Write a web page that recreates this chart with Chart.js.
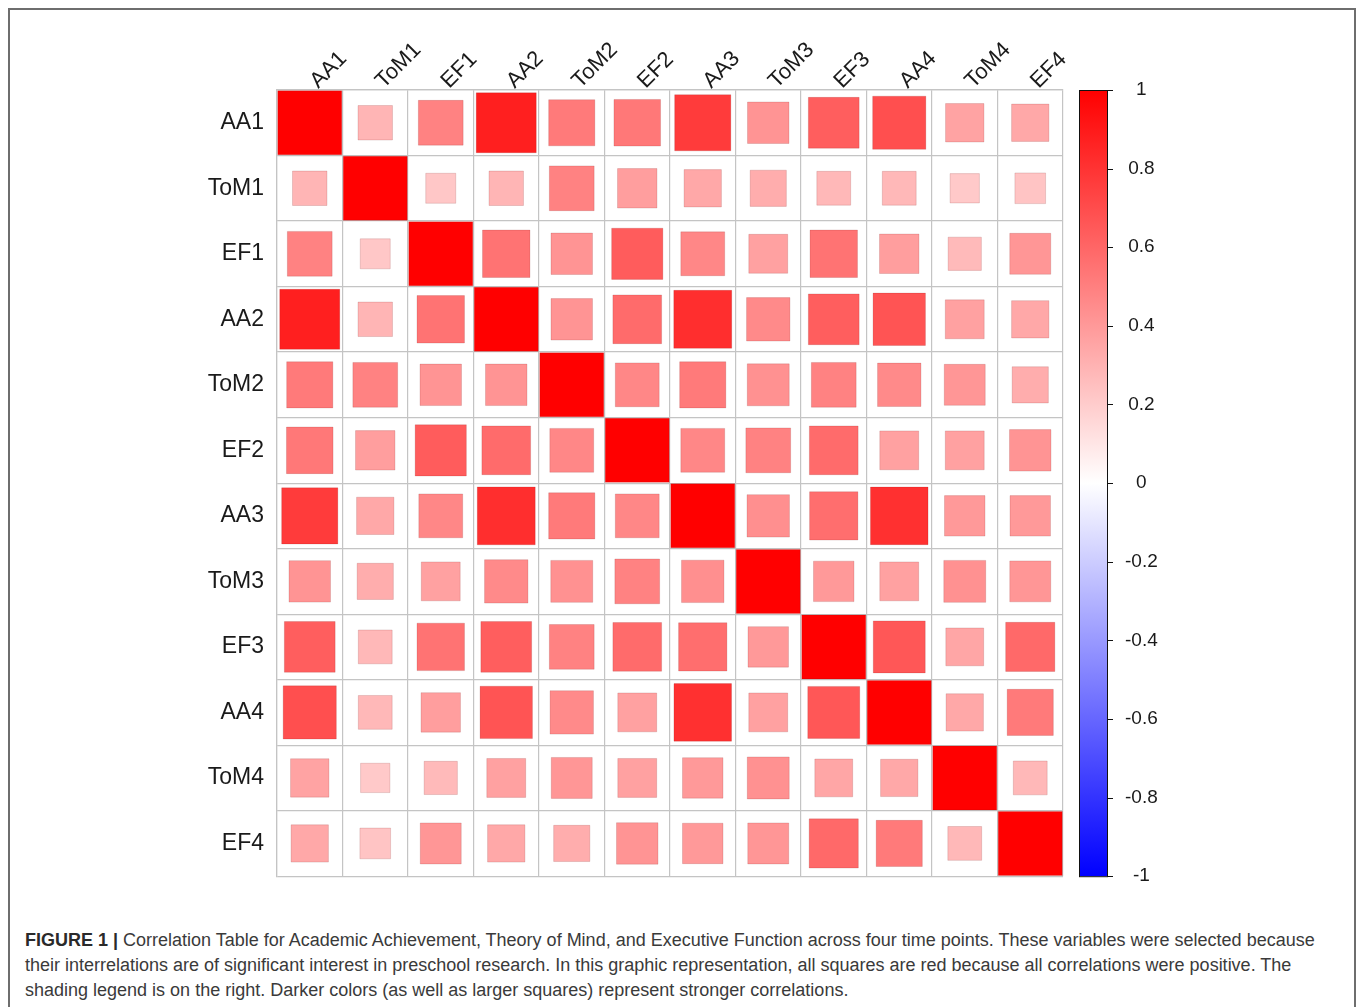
<!DOCTYPE html>
<html>
<head>
<meta charset="utf-8">
<script src="https://cdn.jsdelivr.net/npm/chart.js@4.4.1/dist/chart.umd.min.js"></script>
<style>
  html, body { margin: 0; padding: 0; background: #fff; }
  body { width: 1358px; height: 1007px; position: relative; overflow: hidden; }
  #frame {
    position: absolute; left: 8px; top: 8px; width: 1348px; height: 1100px;
    border: 2px solid #6e6e6e; box-sizing: border-box;
  }
  #corrChart { position: absolute; left: 0; top: 0; }
  #caption {
    position: absolute; left: 25px; top: 928px;
    font-family: "Liberation Sans", Arial, sans-serif; font-size: 18px;
    line-height: 25px; color: #3a3a3a; white-space: nowrap;
  }
  #caption b { color: #2a2a2a; }
</style>
</head>
<body>
<div id="frame"></div>
<canvas id="corrChart" width="1358" height="903"></canvas>
<div id="caption"><b>FIGURE 1 |</b> Correlation Table for Academic Achievement, Theory of Mind, and Executive Function across four time points. These variables were selected because<br>their interrelations are of significant interest in preschool research. In this graphic representation, all squares are red because all correlations were positive. The<br>shading legend is on the right. Darker colors (as well as larger squares) represent stronger correlations.</div>

<script>
// Variabel (urutan baris dan kolom)
const vars = ['AA1', 'ToM1', 'EF1', 'AA2', 'ToM2', 'EF2', 'AA3', 'ToM3', 'EF3', 'AA4', 'ToM4', 'EF4'];

// Korelasi per baris
const rAA1  = [1.00, 0.29, 0.49, 0.88, 0.52, 0.53, 0.77, 0.42, 0.63, 0.69, 0.36, 0.34];
const rToM1 = [0.29, 1.00, 0.22, 0.29, 0.49, 0.38, 0.34, 0.32, 0.28, 0.28, 0.21, 0.23];
const rEF1  = [0.49, 0.22, 1.00, 0.55, 0.42, 0.64, 0.47, 0.37, 0.55, 0.38, 0.27, 0.41];
const rAA2  = [0.88, 0.29, 0.55, 1.00, 0.42, 0.58, 0.82, 0.46, 0.63, 0.67, 0.37, 0.34];
const rToM2 = [0.52, 0.49, 0.42, 0.42, 1.00, 0.47, 0.52, 0.43, 0.49, 0.46, 0.41, 0.32];
const rEF2  = [0.53, 0.38, 0.64, 0.58, 0.47, 1.00, 0.47, 0.49, 0.58, 0.37, 0.37, 0.42];
const rAA3  = [0.77, 0.34, 0.47, 0.82, 0.52, 0.47, 1.00, 0.44, 0.57, 0.81, 0.40, 0.40];
const rToM3 = [0.42, 0.32, 0.37, 0.46, 0.43, 0.49, 0.44, 1.00, 0.40, 0.37, 0.43, 0.41];
const rEF3  = [0.63, 0.28, 0.55, 0.63, 0.49, 0.58, 0.57, 0.40, 1.00, 0.66, 0.35, 0.59];
const rAA4  = [0.69, 0.28, 0.38, 0.67, 0.46, 0.37, 0.81, 0.37, 0.66, 1.00, 0.34, 0.52];
const rToM4 = [0.36, 0.21, 0.27, 0.37, 0.41, 0.37, 0.40, 0.43, 0.35, 0.34, 1.00, 0.28];
const rEF4  = [0.34, 0.23, 0.41, 0.34, 0.32, 0.42, 0.40, 0.41, 0.59, 0.52, 0.28, 1.00];

// Label skala warna
const cbTicks = [-1, -0.8, -0.6, -0.4, -0.2, 0, 0.2, 0.4, 0.6, 0.8, 1];

const corrRows = [rAA1, rToM1, rEF1, rAA2, rToM2, rEF2, rAA3, rToM3, rEF3, rAA4, rToM4, rEF4];

const cells = [];
corrRows.forEach(function(row, i) {
    row.forEach(function(v, j) {
        cells.push({ x: vars[j], y: vars[i], v: v });
    });
});

// biru - putih - merah
function corrColor(v) {
    const a = Math.min(Math.abs(v), 1);
    const c = Math.round(255 * (1 - a));
    return v >= 0 ? 'rgb(255,' + c + ',' + c + ')' : 'rgb(' + c + ',' + c + ',255)';
}

function squareRadius(ctx) {
    const xs = ctx.chart.scales.x;
    const cell = Math.abs(xs.getPixelForValue(1) - xs.getPixelForValue(0));
    const v = ctx.raw ? ctx.raw.v : 0;
    const side = (cell - 1.5) * Math.sqrt(Math.abs(v));
    return side / Math.SQRT2;
}

// Menggambar bar warna di sebelah kanan
const colorBar = {
    id: 'colorBar',
    afterDraw(chart) {
        const s = chart.scales.cb;
        const c = chart.ctx;
        const x0 = s.left + 16;
        const w = 28;
        const top = s.getPixelForValue(1);
        const bot = s.getPixelForValue(-1);
        const g = c.createLinearGradient(0, top, 0, bot);
        g.addColorStop(0, corrColor(1));
        g.addColorStop(0.5, corrColor(0));
        g.addColorStop(1, corrColor(-1));
        c.save();
        c.fillStyle = g;
        c.fillRect(x0, top, w, bot - top);
        c.strokeStyle = '#111';
        c.lineWidth = 1;
        c.strokeRect(x0 + 0.5, top + 0.5, w, bot - top);
        c.beginPath();
        cbTicks.forEach(function(t) {
            const y = Math.round(s.getPixelForValue(t)) + 0.5;
            c.moveTo(x0 + w, y);
            c.lineTo(x0 + w + 6, y);
        });
        c.stroke();
        c.restore();
    }
};

const corrChart = new Chart(document.getElementById('corrChart'), {
    type: 'scatter',
    data: {
        datasets: [{
            data: cells,
            pointStyle: 'rect',
            pointRadius: squareRadius,
            pointHoverRadius: squareRadius,
            backgroundColor: function(ctx) { return corrColor(ctx.raw ? ctx.raw.v : 0); },
            borderColor: 'rgba(110,0,0,0.25)',
            borderWidth: 0.6
        }]
    },
    plugins: [colorBar],
    options: {
        responsive: false,
        animation: false,
        events: [],
        layout: { padding: { left: 0, top: 0, right: 175, bottom: 24 } },
        plugins: { legend: { display: false }, tooltip: { enabled: false } },
        scales: {
            x: {
                type: 'category',
                labels: vars,
                position: 'top',
                offset: true,
                afterFit: function(s) { s.height = 90; },
                grid: { offset: true, color: '#c4c4c4', lineWidth: 1.2, drawTicks: false },
                border: { color: '#c4c4c4', width: 1.2 },
                ticks: {
                    minRotation: 45, maxRotation: 45, padding: -4, labelOffset: 23,
                    color: '#1a1a1a',
                    font: { family: 'Liberation Sans, Arial, sans-serif', size: 22 }
                }
            },
            y: {
                type: 'category',
                labels: vars,
                position: 'left',
                offset: true,
                afterFit: function(s) { s.width = 277; },
                grid: { offset: true, color: '#c4c4c4', lineWidth: 1.2, drawTicks: false },
                border: { color: '#c4c4c4', width: 1.2 },
                ticks: {
                    padding: 13,
                    color: '#1a1a1a',
                    font: { family: 'Liberation Sans, Arial, sans-serif', size: 23 }
                }
            },
            cb: {
                type: 'linear',
                position: 'right',
                min: -1,
                max: 1,
                afterBuildTicks: function(s) { s.ticks = cbTicks.map(function(v) { return { value: v }; }); },
                afterFit: function(s) { s.width = 120; },
                grid: {
                    display: true, drawOnChartArea: false, drawTicks: true,
                    tickLength: 62, tickColor: 'rgba(0,0,0,0)', color: 'rgba(0,0,0,0)'
                },
                border: { display: false },
                ticks: {
                    padding: 0,
                    crossAlign: 'center',
                    color: '#1a1a1a',
                    font: { family: 'Liberation Sans, Arial, sans-serif', size: 19 },
                    callback: function(v) { return String(Math.round(v * 10) / 10); }
                }
            }
        }
    }
});
</script>
</body>
</html>
